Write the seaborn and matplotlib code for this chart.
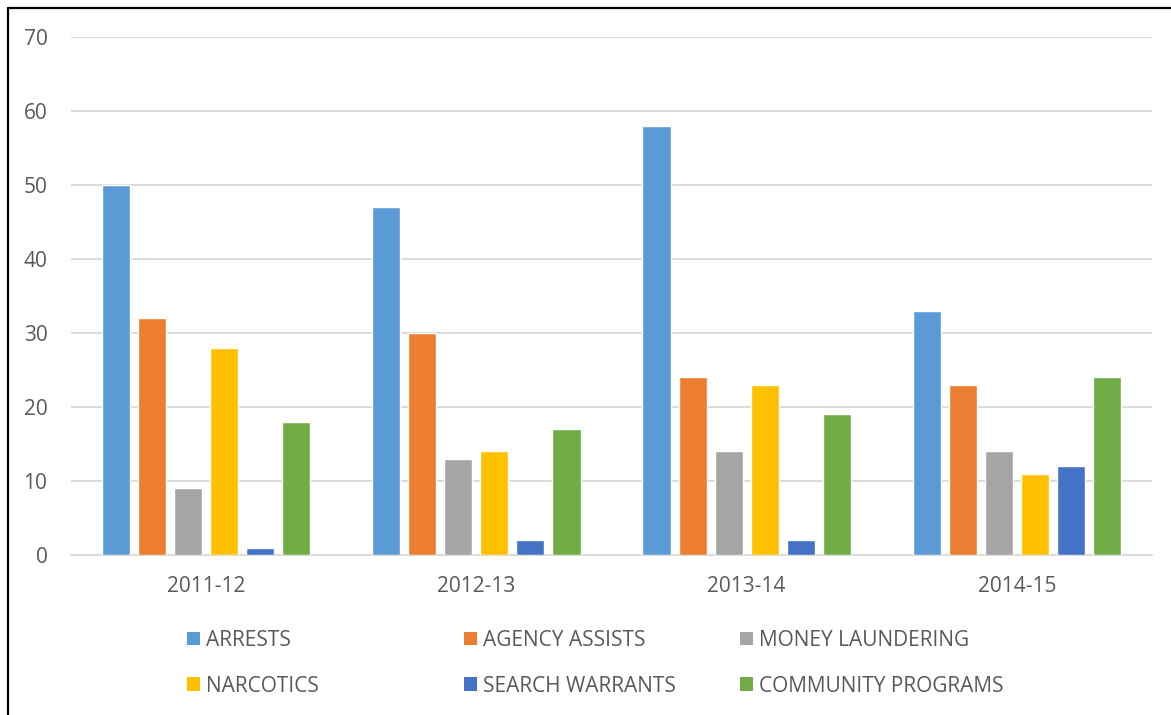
import matplotlib
matplotlib.use("Agg")
import matplotlib.pyplot as plt
from matplotlib.patches import Patch
from matplotlib.lines import Line2D
import seaborn as sns
import pandas as pd

years = ["2011-12", "2012-13", "2013-14", "2014-15"]
series = ["ARRESTS", "AGENCY ASSISTS", "MONEY LAUNDERING",
          "NARCOTICS", "SEARCH WARRANTS", "COMMUNITY PROGRAMS"]
arrests = [50, 47, 58, 33]
agency_assists = [32, 30, 24, 23]
money_laundering = [9, 13, 14, 14]
narcotics = [28, 14, 23, 11]
search_warrants = [1, 2, 2, 12]
community_programs = [18, 17, 19, 24]
colors = ["#5B9BD5", "#ED7D31", "#A5A5A5", "#FFC000", "#4472C4", "#70AD47"]

values = [arrests, agency_assists, money_laundering,
          narcotics, search_warrants, community_programs]
rows = []
for name, vals in zip(series, values):
    for yr, v in zip(years, vals):
        rows.append({"year": yr, "category": name, "count": v})
df = pd.DataFrame(rows)

sns.set_theme(style="white")
plt.rcParams["font.family"] = ["Open Sans", "DejaVu Sans"]
text_color = "#595959"
grid_color = "#D9D9D9"

W, H = 1171, 715
fig = plt.figure(figsize=(W / 100, H / 100), dpi=100)
ax = fig.add_axes([71 / W, 1 - 555 / H, (1152 - 71) / W, (555 - 37) / H])

sns.barplot(data=df, x="year", y="count", hue="category", hue_order=series,
            order=years, palette=colors, width=0.8, gap=0.22,
            saturation=1, ax=ax, legend=False, zorder=3)

ax.set_ylim(0, 70)
ax.set_yticks(range(0, 71, 10))
ax.set_xlim(-0.5, len(years) - 0.5)
ax.yaxis.grid(True, color=grid_color, linewidth=1.3, zorder=0)
ax.set_axisbelow(True)
for side in ["left", "right", "top"]:
    ax.spines[side].set_visible(False)
ax.spines["bottom"].set_color(grid_color)
ax.spines["bottom"].set_linewidth(1.3)
ax.set_xlabel("")
ax.set_ylabel("")
ax.tick_params(axis="y", length=0, pad=17, labelsize=15, labelcolor=text_color)
ax.tick_params(axis="x", length=0, pad=15, labelsize=15, labelcolor=text_color)

# Legend: three columns of two entries each
col_x = [187, 464, 740]
for i, x in enumerate(col_x):
    handles = [Patch(facecolor=colors[j], edgecolor="none", label=series[j])
               for j in (i, i + 3)]
    fig.legend(handles=handles, loc="upper left",
               bbox_to_anchor=(x / W, 1 - 630 / H), frameon=False,
               fontsize=15, labelcolor=text_color, handlelength=0.63,
               handleheight=0.63, handletextpad=0.29, labelspacing=1.18,
               borderaxespad=0, borderpad=0)

# Frame lines on the left and top edges
fig.add_artist(Line2D([7.5 / W, 7.5 / W], [0, 1 - 8 / H], color="black",
                      linewidth=1.6, transform=fig.transFigure))
fig.add_artist(Line2D([7.5 / W, 1], [1 - 8 / H, 1 - 8 / H], color="black",
                      linewidth=1.6, transform=fig.transFigure))

fig.savefig("out.png", dpi=100, facecolor="white")
